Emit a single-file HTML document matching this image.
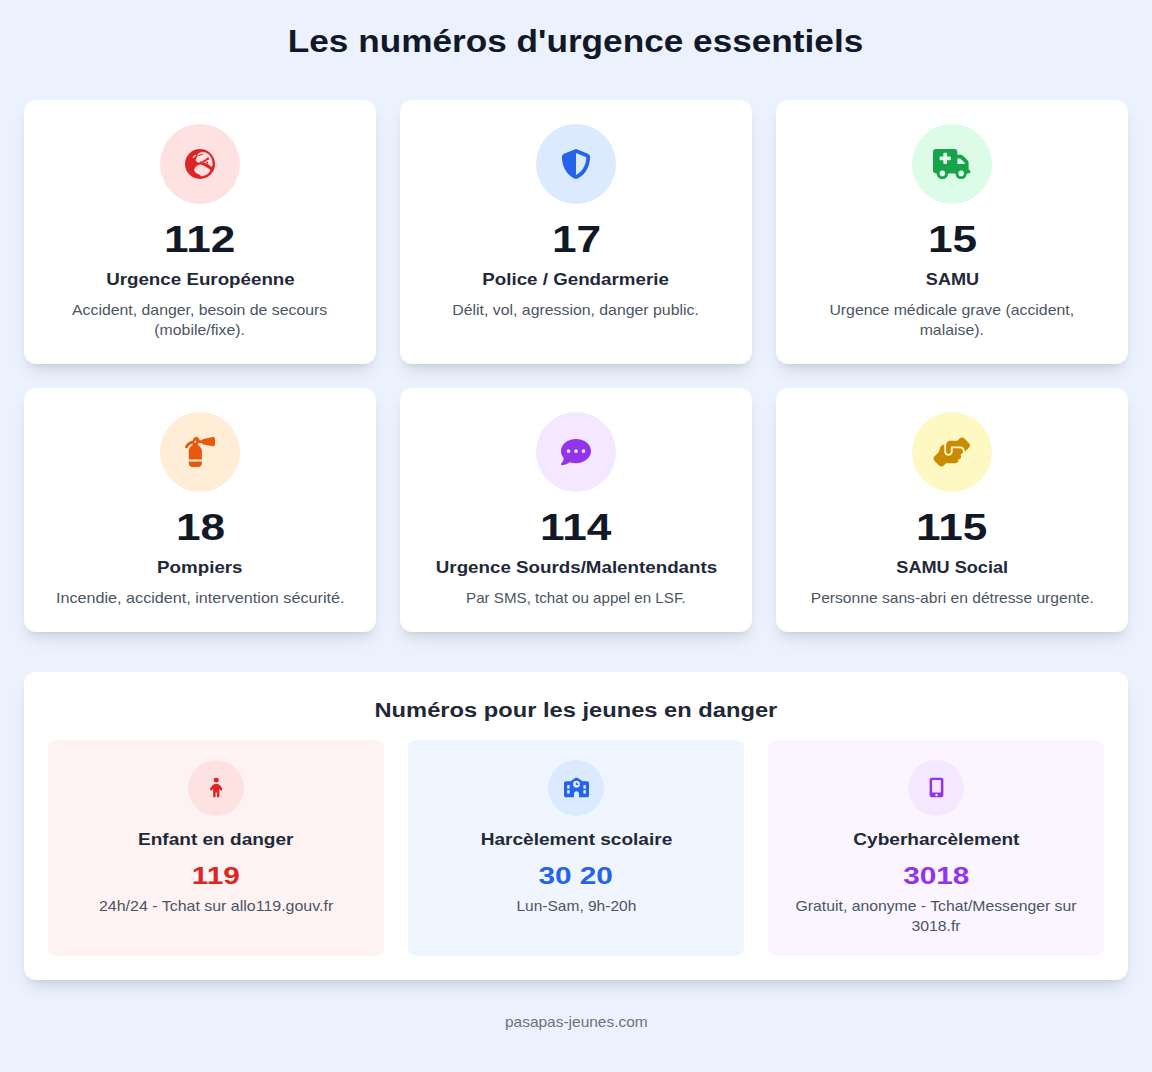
<!DOCTYPE html>
<html lang="fr">
<head>
<meta charset="utf-8">
<title>Les numéros d'urgence essentiels</title>
<style>
*{box-sizing:border-box;margin:0;padding:0}
html,body{width:1152px;height:1072px;overflow:hidden}
body{background:#ebf1fd;font-family:"Liberation Sans",sans-serif;padding:24px;color:#111827;text-align:center}
h1{font-size:31px;line-height:36px;transform:translateY(-.5px) scaleX(1.135);font-weight:700;color:#111827;margin-bottom:40px;white-space:nowrap}
.grid{display:grid;grid-template-columns:repeat(3,352px);gap:24px}
.card{background:#fff;border-radius:12px;padding:24px;box-shadow:0 10px 15px -3px rgba(0,0,0,.1),0 4px 6px -4px rgba(0,0,0,.1)}
.ic{width:80px;height:80px;border-radius:50%;margin:0 auto 16px;display:flex;align-items:center;justify-content:center}
.ic svg{display:block}
.num{font-size:36.8px;line-height:40px;transform:scaleX(1.2);font-weight:700;color:#111827;white-space:nowrap}
.lab{font-size:16.6px;line-height:24px;transform:scaleX(1.13);font-weight:700;color:#1f2937;margin-top:8px;white-space:nowrap}
.desc{font-size:14.6px;line-height:20px;transform:scaleX(1.085);color:#4b5563;margin-top:8px;white-space:nowrap}
.panel{background:#fff;border-radius:12px;padding:24px;margin-top:40px;box-shadow:0 10px 15px -3px rgba(0,0,0,.1),0 4px 6px -4px rgba(0,0,0,.1)}
h2{font-size:20.7px;line-height:28px;transform:scaleX(1.145);font-weight:700;color:#1f2937;margin-bottom:16px;white-space:nowrap}
.grid2{display:grid;grid-template-columns:repeat(3,336px);gap:24px}
.sub{border-radius:8px;padding:20px;height:216px}
.sic{width:56px;height:56px;border-radius:50%;margin:0 auto 12px;display:flex;align-items:center;justify-content:center}
.sic svg{display:block;transform:translateY(-.6px)}
.slab{font-size:16.6px;line-height:24px;transform:scaleX(1.147);font-weight:700;color:#1f2937;white-space:nowrap}
.snum{font-size:24.5px;line-height:32px;transform:scaleX(1.215);font-weight:700;margin-top:8px;white-space:nowrap}
.sdesc{font-size:14.6px;line-height:20px;transform:scaleX(1.08);color:#4b5563;margin-top:4px;white-space:nowrap}
h1,h2,.num,.lab,.desc,.slab,.snum,.sdesc,.foot{width:fit-content;margin-left:auto;margin-right:auto}
.foot{font-size:14.6px;line-height:20px;transform:scaleX(1.06);color:#6b7280;margin-top:32px}
</style>
</head>
<body>
<h1>Les numéros d'urgence essentiels</h1>

<div class="grid">
  <div class="card">
    <div class="ic" style="background:#fee2e2"><svg width="30" height="30" viewBox="0 0 512 512"><circle cx="256" cy="256" r="256" fill="#dc2626"/><g fill="#fee2e2" stroke="#fee2e2" stroke-width="10" stroke-linejoin="round"><ellipse cx="160" cy="124" rx="32" ry="8" transform="rotate(-37 160 124)"/><path d="M188 180L212 132L228 84L276 56L340 60L404 92L444 148L462 212L464 270L456 298L424 282L388 246L340 232L308 218L276 218L244 226L212 222L192 204Z"/><path d="M160 352L180 312L220 280L264 268L316 286L372 318L428 356L416 392L380 426L324 452L276 460L260 440L204 412L172 388Z"/></g><g fill="none" stroke="#dc2626" stroke-linecap="round" stroke-linejoin="round"><path stroke-width="17" d="M232 113L298 91"/><path stroke-width="30" d="M312 214L352 194L378 172"/><path stroke-width="18" d="M268 226L276 212"/></g><circle cx="390" cy="166" r="21" fill="#dc2626"/><circle cx="380" cy="232" r="17" fill="#dc2626"/></svg></div>
    <div class="num">112</div>
    <div class="lab">Urgence Européenne</div>
    <div class="desc">Accident, danger, besoin de secours<br>(mobile/fixe).</div>
  </div>
  <div class="card">
    <div class="ic" style="background:#dbeafe"><svg width="30" height="30" viewBox="0 0 512 512"><path fill="#2563eb" d="M256 0c4.600 0 9.200 1 13.400 2.900L457.700 82.800c22 9.300 38.400 31 38.300 57.200c-.5 99.200-41.300 280.700-213.600 363.200c-16.700 8-36.100 8-52.800 0C57.300 420.700 16.500 239.200 16 140c-.1-26.200 16.300-47.900 38.300-57.200L242.700 2.900C246.800 1 251.400 0 256 0zm0 66.800V444.800C394 378 431.100 230.100 432 141.400L256 66.800z"/></svg></div>
    <div class="num">17</div>
    <div class="lab">Police / Gendarmerie</div>
    <div class="desc">Délit, vol, agression, danger public.</div>
  </div>
  <div class="card">
    <div class="ic" style="background:#dcfce7"><svg width="37.5" height="30" viewBox="0 0 640 512"><path fill="#16a34a" d="M0 48C0 21.500 21.500 0 48 0H368c26.500 0 48 21.500 48 48V96h50.700c17 0 33.300 6.700 45.300 18.700L589.300 192c12 12 18.700 28.300 18.700 45.300V256v32 64c17.700 0 32 14.300 32 32s-14.300 32-32 32H576c0 53-43 96-96 96s-96-43-96-96H256c0 53-43 96-96 96s-96-43-96-96H48c-26.500 0-48-21.500-48-48V48zM416 256H544V237.300L466.700 160H416v96zM160 464a48 48 0 1 0 0-96 48 48 0 1 0 0 96zm368-48a48 48 0 1 0 -96 0 48 48 0 1 0 96 0zM176 80v48l-48 0c-8.800 0-16 7.200-16 16v32c0 8.800 7.200 16 16 16h48v48c0 8.800 7.200 16 16 16h32c8.800 0 16-7.200 16-16V192h48c8.800 0 16-7.200 16-16V144c0-8.800-7.200-16-16-16H240V80c0-8.800-7.200-16-16-16H192c-8.800 0-16 7.200-16 16z"/></svg></div>
    <div class="num">15</div>
    <div class="lab" style="transform:scaleX(1.088)">SAMU</div>
    <div class="desc">Urgence médicale grave (accident,<br>malaise).</div>
  </div>
  <div class="card">
    <div class="ic" style="background:#ffedd5"><svg width="30" height="30" viewBox="0 0 512 512"><path fill="#ea580c" d="M500.300 7.300C507.700 13.300 512 22.400 512 32v96c0 9.600-4.300 18.700-11.700 24.700s-17.200 8.500-26.600 6.600l-160-32C301.500 124.900 292 115.700 289 104H224v34.800c37.800 18 64 56.500 64 101.200V384H64V240c0-44.700 26.200-83.200 64-101.200V110c-36.200 11.100-66 36.900-82.300 70.500c-5.800 11.900-20.200 16.900-32.100 11.100S-3.300 171.400 2.500 159.500C27.800 107.300 77.100 69.800 136 61.100V56c0-30.900 25.100-56 56-56s56 25.100 56 56h41c3-11.700 12.500-20.900 24.700-23.400l160-32c9.400-1.900 19.100 .6 26.600 6.700zM288 416v32c0 35.300-28.700 64-64 64H128c-35.300 0-64-28.700-64-64V416H288zM176 96a16 16 0 1 0 0-32 16 16 0 1 0 0 32z"/></svg></div>
    <div class="num">18</div>
    <div class="lab">Pompiers</div>
    <div class="desc" style="transform:scaleX(1.108)">Incendie, accident, intervention sécurité.</div>
  </div>
  <div class="card">
    <div class="ic" style="background:#f3e8ff"><svg width="30" height="30" viewBox="0 0 512 512"><path fill="#9333ea" d="M256 448c141.400 0 256-93.100 256-208S397.400 32 256 32S0 125.100 0 240c0 45.100 17.700 86.800 47.700 120.900c-1.900 24.500-11.400 46.300-21.400 62.900c-5.500 9.200-11.100 16.600-15.200 21.600c-2.100 2.500-3.700 4.400-4.900 5.700c-.6 .6-1 1.100-1.300 1.400l-.3 .3c-4.600 4.600-5.900 11.400-3.400 17.400c2.500 6 8.300 9.900 14.800 9.900c28.700 0 57.600-8.900 81.600-19.300c22.900-10 42.400-21.900 54.300-30.600c31.800 11.500 67 17.900 104.100 17.900zM128 208a32 32 0 1 1 0 64 32 32 0 1 1 0-64zm128 0a32 32 0 1 1 0 64 32 32 0 1 1 0-64zm96 32a32 32 0 1 1 64 0 32 32 0 1 1 -64 0z"/></svg></div>
    <div class="num">114</div>
    <div class="lab">Urgence Sourds/Malentendants</div>
    <div class="desc" style="transform:scaleX(1.037)">Par SMS, tchat ou appel en LSF.</div>
  </div>
  <div class="card">
    <div class="ic" style="background:#fef9c3"><svg width="37.500" height="30" viewBox="0 0 640 512"><path fill="#ca8a04" d="M544 248v3.300l69.700-69.700c21.900-21.900 21.900-57.300 0-79.200L535.600 24.400c-21.900-21.900-57.300-21.900-79.200 0L416.300 64.500c-2.700-.3-5.500-.5-8.300-.5H296c-37.100 0-67.600 28-71.600 64H224V248c0 22.100 17.900 40 40 40s40-17.900 40-40V176v-.1V160l16 0 136 0H464c44.200 0 80 35.800 80 80v8zM336 192v56c0 39.800-32.200 72-72 72s-72-32.200-72-72V129.400c-35.900 6.200-65.800 32.300-76 68.200L99.500 255.200 26.300 328.400c-21.900 21.900-21.900 57.300 0 79.200l78.100 78.100c21.900 21.900 57.300 21.900 79.200 0l37.700-37.700c.9 0 1.800 .1 2.700 .1H384c26.500 0 48-21.500 48-48c0-5.600-1-11-2.700-16H432c26.500 0 48-21.500 48-48c0-12.800-5-24.400-13.200-33c25.700-5 45.100-27.600 45.200-54.800v-.4c-.1-30.800-25.100-55.800-56-55.800l-120 0z"/></svg></div>
    <div class="num">115</div>
    <div class="lab" style="transform:scaleX(1.091)">SAMU Social</div>
    <div class="desc" style="transform:scaleX(1.07)">Personne sans-abri en détresse urgente.</div>
  </div>
</div>

<div class="panel">
  <h2>Numéros pour les jeunes en danger</h2>
  <div class="grid2">
    <div class="sub" style="background:#fef2f2">
      <div class="sic" style="background:#fee2e2"><svg width="12.5" height="20" viewBox="0 0 320 512"><path fill="#dc2626" d="M96 64a64 64 0 1 1 128 0A64 64 0 1 1 96 64zm48 320v96c0 17.700-14.300 32-32 32s-32-14.300-32-32V287.800L59.100 321c-9.400 15-29.200 19.400-44.100 10S-4.500 301.900 4.900 287l39.900-63.300C69.700 184 113.200 160 160 160s90.300 24 115.200 63.600L315.100 287c9.400 15 4.900 34.700-10 44.100s-34.700 4.900-44.100-10L240 287.800V480c0 17.700-14.300 32-32 32s-32-14.300-32-32V384H144z"/></svg></div>
      <div class="slab">Enfant en danger</div>
      <div class="snum" style="color:#dc2626">119</div>
      <div class="sdesc" style="transform:scaleX(1.094)">24h/24 - Tchat sur allo119.gouv.fr</div>
    </div>
    <div class="sub" style="background:#eff6ff">
      <div class="sic" style="background:#dbeafe"><svg width="25" height="20" viewBox="0 0 640 512"><path fill="#2563eb" d="M337.800 5.400C327-1.800 313-1.800 302.200 5.400L166.300 96H48C21.500 96 0 117.500 0 144V464c0 26.500 21.500 48 48 48H256V416c0-35.300 28.700-64 64-64s64 28.700 64 64v96H592c26.500 0 48-21.500 48-48V144c0-26.500-21.500-48-48-48H473.700L337.800 5.400zM96 192h32c8.800 0 16 7.200 16 16v64c0 8.800-7.200 16-16 16H96c-8.800 0-16-7.200-16-16V208c0-8.800 7.200-16 16-16zm400 16c0-8.800 7.200-16 16-16h32c8.800 0 16 7.200 16 16v64c0 8.800-7.200 16-16 16H512c-8.800 0-16-7.200-16-16V208zM96 320h32c8.800 0 16 7.200 16 16v64c0 8.800-7.200 16-16 16H96c-8.800 0-16-7.200-16-16V336c0-8.800 7.200-16 16-16zm400 16c0-8.800 7.200-16 16-16h32c8.800 0 16 7.200 16 16v64c0 8.800-7.200 16-16 16H512c-8.800 0-16-7.200-16-16V336zM232 176a88 88 0 1 1 176 0 88 88 0 1 1 -176 0zm88-48c-8.800 0-16 7.200-16 16v32c0 8.800 7.200 16 16 16h32c8.800 0 16-7.200 16-16s-7.200-16-16-16H336V144c0-8.800-7.200-16-16-16z"/></svg></div>
      <div class="slab">Harcèlement scolaire</div>
      <div class="snum" style="color:#2563eb">30 20</div>
      <div class="sdesc" style="transform:scaleX(1.062)">Lun-Sam, 9h-20h</div>
    </div>
    <div class="sub" style="background:#faf5ff">
      <div class="sic" style="background:#f3e8ff"><svg width="15" height="20" viewBox="0 0 384 512"><path fill="#9333ea" d="M16 64C16 28.700 44.700 0 80 0H304c35.300 0 64 28.700 64 64V448c0 35.300-28.700 64-64 64H80c-35.300 0-64-28.700-64-64V64zM224 448a32 32 0 1 0 -64 0 32 32 0 1 0 64 0zM304 64H80V384H304V64z"/></svg></div>
      <div class="slab">Cyberharcèlement</div>
      <div class="snum" style="color:#9333ea">3018</div>
      <div class="sdesc">Gratuit, anonyme - Tchat/Messenger sur<br>3018.fr</div>
    </div>
  </div>
</div>

<div class="foot">pasapas-jeunes.com</div>
</body>
</html>
